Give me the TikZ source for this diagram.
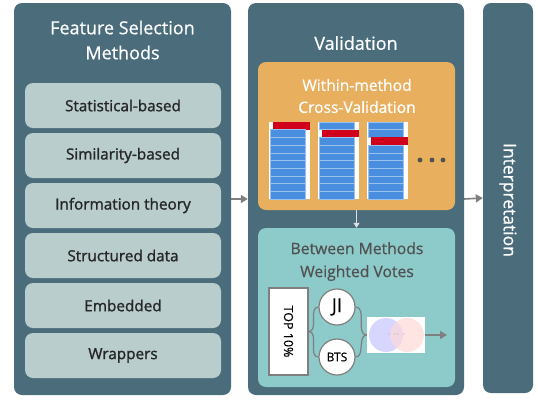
\documentclass[tikz,border=0pt]{standalone}
\usepackage{fontspec}
\setmainfont{Open Sans}[FakeBold=0.6]
\newfontfamily\semifont[FakeBold=1.4]{Open Sans}
\usetikzlibrary{arrows.meta}
\definecolor{slate}{HTML}{4A6C7B}
\definecolor{boxgrey}{HTML}{B9CDCD}
\definecolor{cvorange}{HTML}{E8B05E}
\definecolor{voteteal}{HTML}{8DCACA}
\definecolor{rowblue}{HTML}{4A8FDF}
\definecolor{rowred}{HTML}{D0021B}
\definecolor{arrgrey}{HTML}{7F7F7F}
\definecolor{txtgrey}{HTML}{505050}
\begin{document}
\begin{tikzpicture}[x=1pt, y=-1pt, panel/.style={rectangle, rounded corners=8pt, fill=slate, inner sep=0pt}, method/.style={rectangle, rounded corners=8pt, fill=boxgrey, text=black!85, minimum width=196pt, minimum height=45pt, font=\semifont\fontsize{15.3}{18}\selectfont}, title/.style={align=center, text=white, font=\fontsize{18}{25}\selectfont}, flow/.style={draw=arrgrey, line width=1.6pt, -{Triangle[length=7pt,width=8pt]}}, vote/.style={circle, draw=arrgrey, line width=1.2pt, fill=white, minimum size=36pt, inner sep=0pt}, wire/.style={draw=arrgrey, line width=1.2pt}]
      \useasboundingbox (0,0) rectangle (538,400);

      % three columns
      \node[panel, minimum width=217pt, minimum height=392pt] (fsm) at (122.5,199) {};
      \node[panel, minimum width=216pt, minimum height=392pt] (val) at (356,199) {};
      \node[panel, minimum width=50pt, minimum height=390pt] (interp) at (508,198) {};

      \node[title] (fsmt) at (122.5,40) {Feature Selection\\Methods};
      \node[method] (stat) at (123,105.5) {Statistical-based};
      \node[method] (simi) at (123,155.5) {Similarity-based};
      \node[method] (info) at (123,205.5) {Information theory};
      \node[method] (stru) at (123,255.5) {Structured data};
      \node[method] (embd) at (123,305.5) {Embedded};
      \node[method] (wrap) at (123,355.5) {Wrappers};

      \node[title] (valt) at (356,43) {Validation};
      \node[title, rotate=-90, font=\fontsize{17.5}{20}\selectfont] (interpt) at (508,200) {Interpretation};

      % within-method cross-validation
      \node[rectangle, rounded corners=8pt, fill=cvorange, minimum width=197pt, minimum height=148pt] (cv) at (356.5,136) {};
      \node[title, font=\fontsize{15.6}{22}\selectfont] (cvt) at (357,96) {Within-method\\Cross-Validation};
      \foreach \k in {1,2,3} {
        \node[rectangle, fill=white, minimum width=41pt, minimum height=77pt, inner sep=0pt, anchor=north west] (f\k) at (269+49*\k-49,122) {};
        \foreach \i in {1,...,10} {
          \ifnum\i=\k
            \fill[rowred] (273+49*\k-49,122+7.7*\i-7.7) rectangle (310+49*\k-49,122+7.7*\i);
          \else
            \filldraw[fill=rowblue, draw=rowblue!55!white, line width=0.5pt] (270+49*\k-49,122+7.7*\i-7.7) rectangle (305+49*\k-49,122+7.7*\i);
          \fi
        }
      }
      \foreach \dx in {420,432,443}
        \fill[txtgrey] (\dx,160) circle (2.4);

      % between methods weighted votes
      \node[rectangle, rounded corners=8pt, fill=voteteal, minimum width=197pt, minimum height=159pt] (bmv) at (356.5,307.5) {};
      \node[title, text=txtgrey, font=\fontsize{15.7}{23}\selectfont] (bmvt) at (357,261.5) {Between Methods\\Weighted Votes};
      \draw[draw=gray!25, line width=1.2pt, -{Triangle[length=5pt,width=6pt]}] (cv.south) -- (bmv.north);

      \node[rectangle, draw=arrgrey, line width=1.2pt, fill=white, minimum width=39pt, minimum height=87pt] (top) at (288.5,331.5) {};
      \node[rotate=-90, font=\fontsize{12.5}{14}\selectfont] (topt) at (top.center) {TOP 10\%};
      \node[vote, font=\fontsize{19}{20}\selectfont] (ji) at (337,307) {JI};
      \node[vote, font=\fontsize{12}{14}\selectfont] (bts) at (337,357) {BTS};
      \node[rectangle, fill=white, minimum width=58pt, minimum height=36pt] (venn) at (396,335) {};
      \fill[blue!20, opacity=0.8] (386,335) circle (17);
      \fill[red!15, opacity=0.7] (407,335) circle (17);
      \foreach \dx in {389,395,398,404}
        \fill[txtgrey] (\dx,334) circle (0.4);
      \coordinate (vout) at (447,335);

      \draw[wire] (top.east) to[out=0,in=180] (ji.west);
      \draw[wire] (top.east) to[out=0,in=180] (bts.west);
      \draw[wire] (ji.east) to[out=0,in=180] (venn.west);
      \draw[wire] (bts.east) to[out=0,in=180] (venn.west);
      \draw[wire, -{Triangle[length=7pt,width=8pt]}] (venn.east) -- (vout);

      \draw[flow] (fsm.east) -- (val.west);
      \draw[flow] (val.east) -- (interp.west);
    \end{tikzpicture}
\end{document}
